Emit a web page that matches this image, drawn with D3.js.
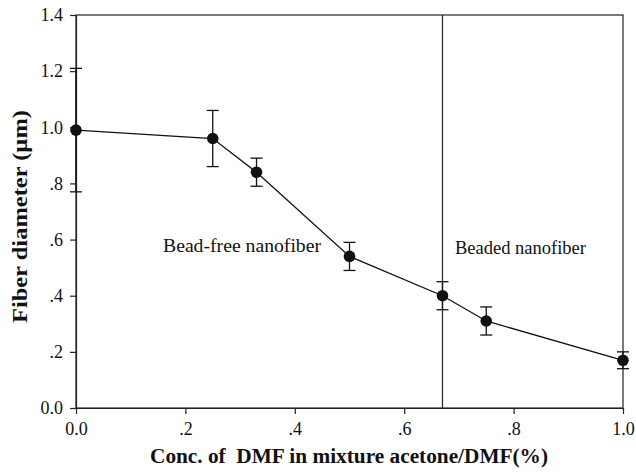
<!DOCTYPE html>
<html>
<head>
<meta charset="utf-8">
<script src="https://cdn.jsdelivr.net/npm/d3@7"></script>
<style>
  html, body { margin: 0; padding: 0; background: #fff; }
  svg { display: block; }
</style>
</head>
<body>
<svg id="chart" width="636" height="474"></svg>
<script>
// DMF fraction in the acetone/DMF solvent
const conc = [0, 0.25, 0.33, 0.5, 0.67, 0.75, 1.0];
// mean fiber diameter (µm)
const diameter = [0.99, 0.96, 0.84, 0.54, 0.40, 0.31, 0.17];
// standard deviation (µm)
const errors = [0.22, 0.10, 0.05, 0.05, 0.05, 0.05, 0.03];
const xTicks = [0, 0.2, 0.4, 0.6, 0.8, 1.0];
const yTicks = [0, 0.2, 0.4, 0.6, 0.8, 1.0, 1.2, 1.4];
const boundary = 0.67;

const SERIF = "'Liberation Serif', Tinos, 'Times New Roman', Times, 'Nimbus Roman', 'DejaVu Serif', serif";
const fmt = v => v === 0 ? "0.0" : (v >= 1 ? v.toFixed(1) : d3.format(".1f")(v).replace(/^0/, ""));

const svg = d3.select("#chart").style("font-family", SERIF);
const m = { left: 76, right: 13, top: 15, bottom: 66 };
const W = 636, H = 474;
const x = d3.scaleLinear().domain([0, 1]).range([m.left, W - m.right]);
const y = d3.scaleLinear().domain([0, 1.4]).range([H - m.bottom, m.top]);

// frame
svg.append("rect")
  .attr("x", x(0)).attr("y", y(1.4))
  .attr("width", x(1) - x(0)).attr("height", y(0) - y(1.4))
  .attr("fill", "none").attr("stroke", "#222").attr("stroke-width", 1.2);

// axes
const xAxis = svg.append("g")
  .attr("transform", `translate(0,${y(0)})`)
  .call(d3.axisBottom(x).tickValues(xTicks).tickFormat(fmt).tickSize(6).tickSizeOuter(0).tickPadding(8));
const yAxis = svg.append("g")
  .attr("transform", `translate(${x(0)},0)`)
  .call(d3.axisLeft(y).tickValues(yTicks).tickFormat(fmt).tickSize(6).tickSizeOuter(0).tickPadding(7));
[xAxis, yAxis].forEach(g => {
  g.attr("font-family", null).attr("font-size", 18);
  g.select(".domain").attr("stroke", "#222").attr("stroke-width", 1.2);
  g.selectAll(".tick line").attr("stroke", "#222").attr("stroke-width", 1.2);
  g.selectAll(".tick text").attr("fill", "#111");
});

// regime boundary
svg.append("line")
  .attr("x1", x(boundary)).attr("x2", x(boundary))
  .attr("y1", y(1.4)).attr("y2", y(0))
  .attr("stroke", "#222").attr("stroke-width", 1.2);

// connecting line
svg.append("path")
  .datum(conc.map((c, i) => [c, diameter[i]]))
  .attr("fill", "none").attr("stroke", "#111").attr("stroke-width", 1.3)
  .attr("d", d3.line().x(d => x(d[0])).y(d => y(d[1])));

// error bars
const eb = svg.append("g").attr("stroke", "#111").attr("stroke-width", 1.3);
conc.forEach((c, i) => {
  const cx = x(c), hi = y(diameter[i] + errors[i]), lo = y(diameter[i] - errors[i]);
  eb.append("line").attr("x1", cx).attr("x2", cx).attr("y1", hi).attr("y2", lo);
  eb.append("line").attr("x1", cx - 6).attr("x2", cx + 6).attr("y1", hi).attr("y2", hi);
  eb.append("line").attr("x1", cx - 6).attr("x2", cx + 6).attr("y1", lo).attr("y2", lo);
});

// markers
svg.append("g").selectAll("circle")
  .data(conc.map((c, i) => [c, diameter[i]]))
  .join("circle")
  .attr("cx", d => x(d[0])).attr("cy", d => y(d[1]))
  .attr("r", 5.8).attr("fill", "#111");

// region labels
svg.append("text").attr("x", 163).attr("y", 252).attr("font-size", 19).attr("fill", "#111")
  .attr("textLength", 158).attr("lengthAdjust", "spacingAndGlyphs").text("Bead-free nanofiber");
svg.append("text").attr("x", 455).attr("y", 254).attr("font-size", 19).attr("fill", "#111")
  .attr("textLength", 131).attr("lengthAdjust", "spacingAndGlyphs").text("Beaded nanofiber");

// axis titles
svg.append("text")
  .attr("x", 150).attr("y", 463)
  .attr("font-size", 20).attr("font-weight", "bold").attr("fill", "#111")
  .attr("xml:space", "preserve")
  .attr("textLength", 398).attr("lengthAdjust", "spacingAndGlyphs")
  .text("Conc. of  DMF in mixture acetone/DMF(%)");
svg.append("text")
  .attr("transform", "translate(27,323) rotate(-90)")
  .attr("font-size", 21).attr("font-weight", "bold").attr("fill", "#111")
  .attr("textLength", 213).attr("lengthAdjust", "spacingAndGlyphs")
  .text("Fiber diameter (µm)");
</script>
</body>
</html>
